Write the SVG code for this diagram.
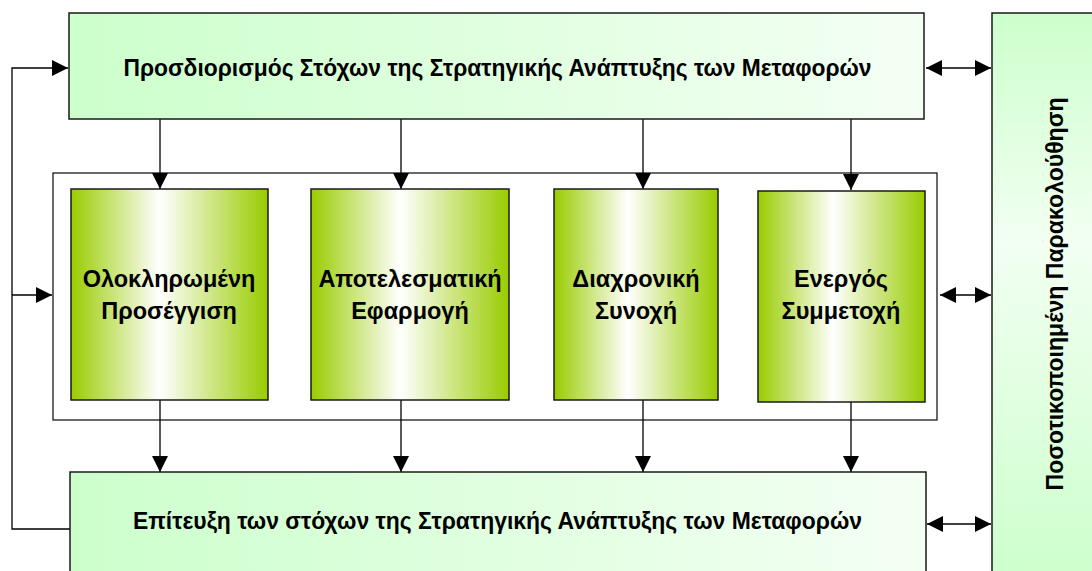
<svg xmlns="http://www.w3.org/2000/svg" width="1092" height="571" viewBox="0 0 1092 571">
<style>
.box{stroke:#1a1a1a;stroke-width:1.5}
.t{font-family:"Liberation Sans",Arial,sans-serif;font-weight:bold;font-size:23.5px;fill:#000;text-anchor:middle}
.c{stroke:#000;stroke-width:1.3;fill:none}
</style>
<defs>
<linearGradient id="gh" x1="0" y1="0" x2="1" y2="0">
<stop offset="0" stop-color="#ccffcc"/><stop offset="1" stop-color="#f4fff4"/>
</linearGradient>
<linearGradient id="gv" x1="0" y1="0" x2="0" y2="1">
<stop offset="0" stop-color="#ccffcc"/><stop offset="0.4" stop-color="#f2fff2"/><stop offset="1" stop-color="#ccffcc"/>
</linearGradient>
<linearGradient id="gg" x1="0" y1="0" x2="1" y2="0">
<stop offset="0" stop-color="#99cc00"/><stop offset="0.45" stop-color="#ffffff"/><stop offset="1" stop-color="#99cc00"/>
</linearGradient>
<marker id="ah" viewBox="0 0 10 10" refX="10" refY="5" markerWidth="16" markerHeight="16" markerUnits="userSpaceOnUse" orient="auto-start-reverse">
<path d="M0,0 L10,5 L0,10 Z" fill="#000"/>
</marker>
</defs>
<g id="container"><rect x="53" y="173" width="884" height="247" fill="#fff" stroke="#1a1a1a" stroke-width="1.3"/></g>
<g id="connectors">
<path class="c" d="M70,529 H12 V68 H68" marker-end="url(#ah)"/>
<path class="c" d="M12,295 H52" marker-end="url(#ah)"/>
<path class="c" d="M160,119 V189" marker-end="url(#ah)"/>
<path class="c" d="M401,119 V189" marker-end="url(#ah)"/>
<path class="c" d="M643,119 V189" marker-end="url(#ah)"/>
<path class="c" d="M851,119 V190" marker-end="url(#ah)"/>
<path class="c" d="M160,400 V472" marker-end="url(#ah)"/>
<path class="c" d="M401,400 V472" marker-end="url(#ah)"/>
<path class="c" d="M643,400 V472" marker-end="url(#ah)"/>
<path class="c" d="M851,401 V472" marker-end="url(#ah)"/>
<path class="c" d="M926,68 H991" marker-start="url(#ah)" marker-end="url(#ah)"/>
<path class="c" d="M940,295 H991" marker-start="url(#ah)" marker-end="url(#ah)"/>
<path class="c" d="M927,524 H991" marker-start="url(#ah)" marker-end="url(#ah)"/>
</g>
<g id="top"><rect class="box" x="69" y="13" width="855" height="106" fill="url(#gh)"/>
<text class="t" x="497.5" y="76" textLength="748" lengthAdjust="spacingAndGlyphs">Προσδιορισμός Στόχων της Στρατηγικής Ανάπτυξης των Μεταφορών</text></g>
<g id="bottom"><rect class="box" x="70" y="472" width="856" height="110" fill="url(#gh)"/>
<text class="t" x="497.5" y="529" textLength="729" lengthAdjust="spacingAndGlyphs">Επίτευξη των στόχων της Στρατηγικής Ανάπτυξης των Μεταφορών</text></g>
<g id="right"><rect class="box" x="992" y="13" width="110" height="570" fill="url(#gv)"/>
<text class="t" transform="translate(1063,294) rotate(-90)" textLength="393" lengthAdjust="spacingAndGlyphs">Ποσοτικοποιημένη Παρακολούθηση</text></g>
<g id="n1"><rect class="box" x="71" y="189" width="197" height="211" fill="url(#gg)"/>
<text class="t" x="169" y="287">Ολοκληρωμένη</text><text class="t" x="169" y="319">Προσέγγιση</text></g>
<g id="n2"><rect class="box" x="311" y="189" width="198" height="211" fill="url(#gg)"/>
<text class="t" x="410" y="287">Αποτελεσματική</text><text class="t" x="410" y="319">Εφαρμογή</text></g>
<g id="n3"><rect class="box" x="554" y="189" width="164" height="211" fill="url(#gg)"/>
<text class="t" x="636" y="287">Διαχρονική</text><text class="t" x="636" y="319">Συνοχή</text></g>
<g id="n4"><rect class="box" x="758" y="191" width="167" height="211" fill="url(#gg)"/>
<text class="t" x="841" y="287">Ενεργός</text><text class="t" x="841" y="319">Συμμετοχή</text></g>
</svg>
